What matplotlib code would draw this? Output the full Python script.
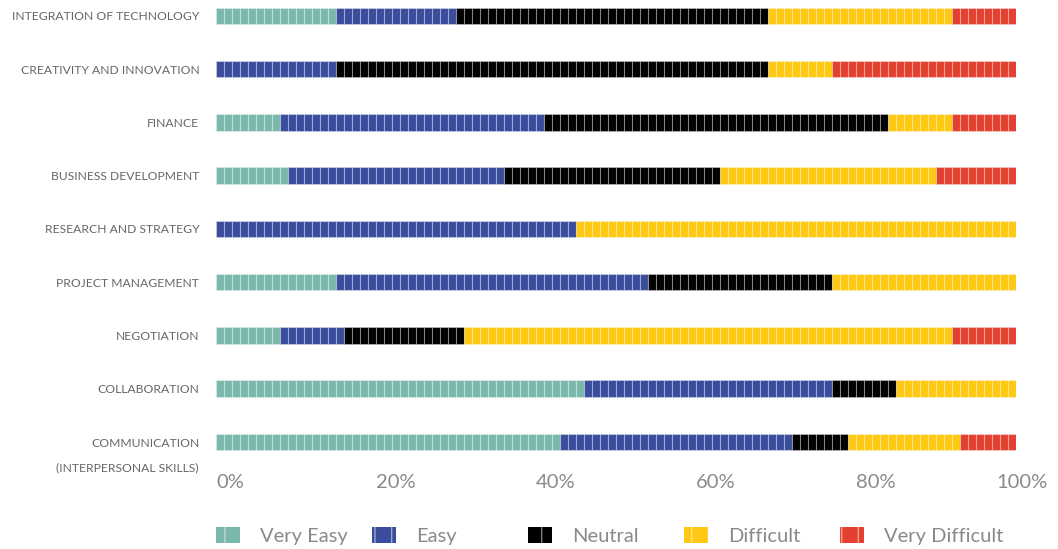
import numpy as np
import matplotlib
matplotlib.use("Agg")
import matplotlib.pyplot as plt
from matplotlib.patches import Patch
from matplotlib.transforms import ScaledTranslation

# data (percent of respondents)
skills = ["INTEGRATION OF TECHNOLOGY", "CREATIVITY AND INNOVATION", "FINANCE",
          "BUSINESS DEVELOPMENT", "RESEARCH AND STRATEGY", "PROJECT MANAGEMENT",
          "NEGOTIATION", "COLLABORATION", "COMMUNICATION"]
levels = ["Very Easy", "Easy", "Neutral", "Difficult", "Very Difficult"]
very_easy = [15, 0, 8, 9, 0, 15, 8, 46, 43]
easy = [15, 15, 33, 27, 45, 39, 8, 31, 29]
neutral = [39, 54, 43, 27, 0, 23, 15, 8, 7]
difficult = [23, 8, 8, 27, 55, 23, 61, 15, 14]
very_difficult = [8, 23, 8, 10, 0, 0, 8, 0, 7]
xticks = [0, 20, 40, 60, 80, 100]

colors = ["#7ab8ad", "#3a4d9c", "#000000", "#fec813", "#e4402f"]
plt.rcParams['font.family'] = ['Lato', 'DejaVu Sans']

fig = plt.figure(figsize=(10.58, 5.49), dpi=100)
ax = fig.add_axes([216 / 1058, 1 - 460 / 549, 800 / 1058, 460 / 549])

series = [very_easy, easy, neutral, difficult, very_difficult]
left = np.zeros(len(skills))
for vals, col in zip(series, colors):
    for i, v in enumerate(vals):
        if v == 0:
            continue
        # each bar is made of 1% cells
        cells = np.arange(left[i], left[i] + v)
        ax.barh(np.full(len(cells), i), 1, left=cells, height=0.31,
                color=col, edgecolor=(1, 1, 1, 0.3), linewidth=0.8)
    left += np.array(vals)

ax.set_xlim(0, 100)
ax.set_ylim(8.338, -0.30)
ax.set_yticks(range(len(skills)))
ax.set_yticklabels(skills, fontsize=8.7, color="#666666")
ax.set_xticks(xticks)
ax.set_xticklabels([f"{t}%" for t in xticks], fontsize=14.5, color="#8a8a8a")
ax.tick_params(axis="both", length=0)
ax.tick_params(axis="y", pad=12)
ax.tick_params(axis="x", pad=10)
for s in ax.spines.values():
    s.set_visible(False)

for lab in ax.get_xticklabels():
    lab.set_ha("left")
last = ax.get_xticklabels()[-1]
last.set_transform(last.get_transform() + ScaledTranslation(-0.2, 0, fig.dpi_scale_trans))

ax.annotate("(INTERPERSONAL SKILLS)", xy=(0, 8), xycoords=("axes fraction", "data"),
            xytext=(-17, -26), textcoords="offset pixels", ha="right", va="center",
            fontsize=8.7, color="#666666")

# legend: one entry per fixed slot
for k, (name, col) in enumerate(zip(levels, colors)):
    h = Patch(facecolor=col, edgecolor=(1, 1, 1, 0.5), hatch="|", linewidth=0)
    fig.legend([h], [name], loc="center left",
               bbox_to_anchor=((216 + 156 * k) / 1058, 1 - 536 / 549),
               frameon=False, fontsize=14.5, handlelength=1.2, handleheight=0.82,
               handletextpad=1.0, borderpad=0, borderaxespad=0,
               labelcolor="#8a8a8a")

fig.savefig("out.png", dpi=100)
